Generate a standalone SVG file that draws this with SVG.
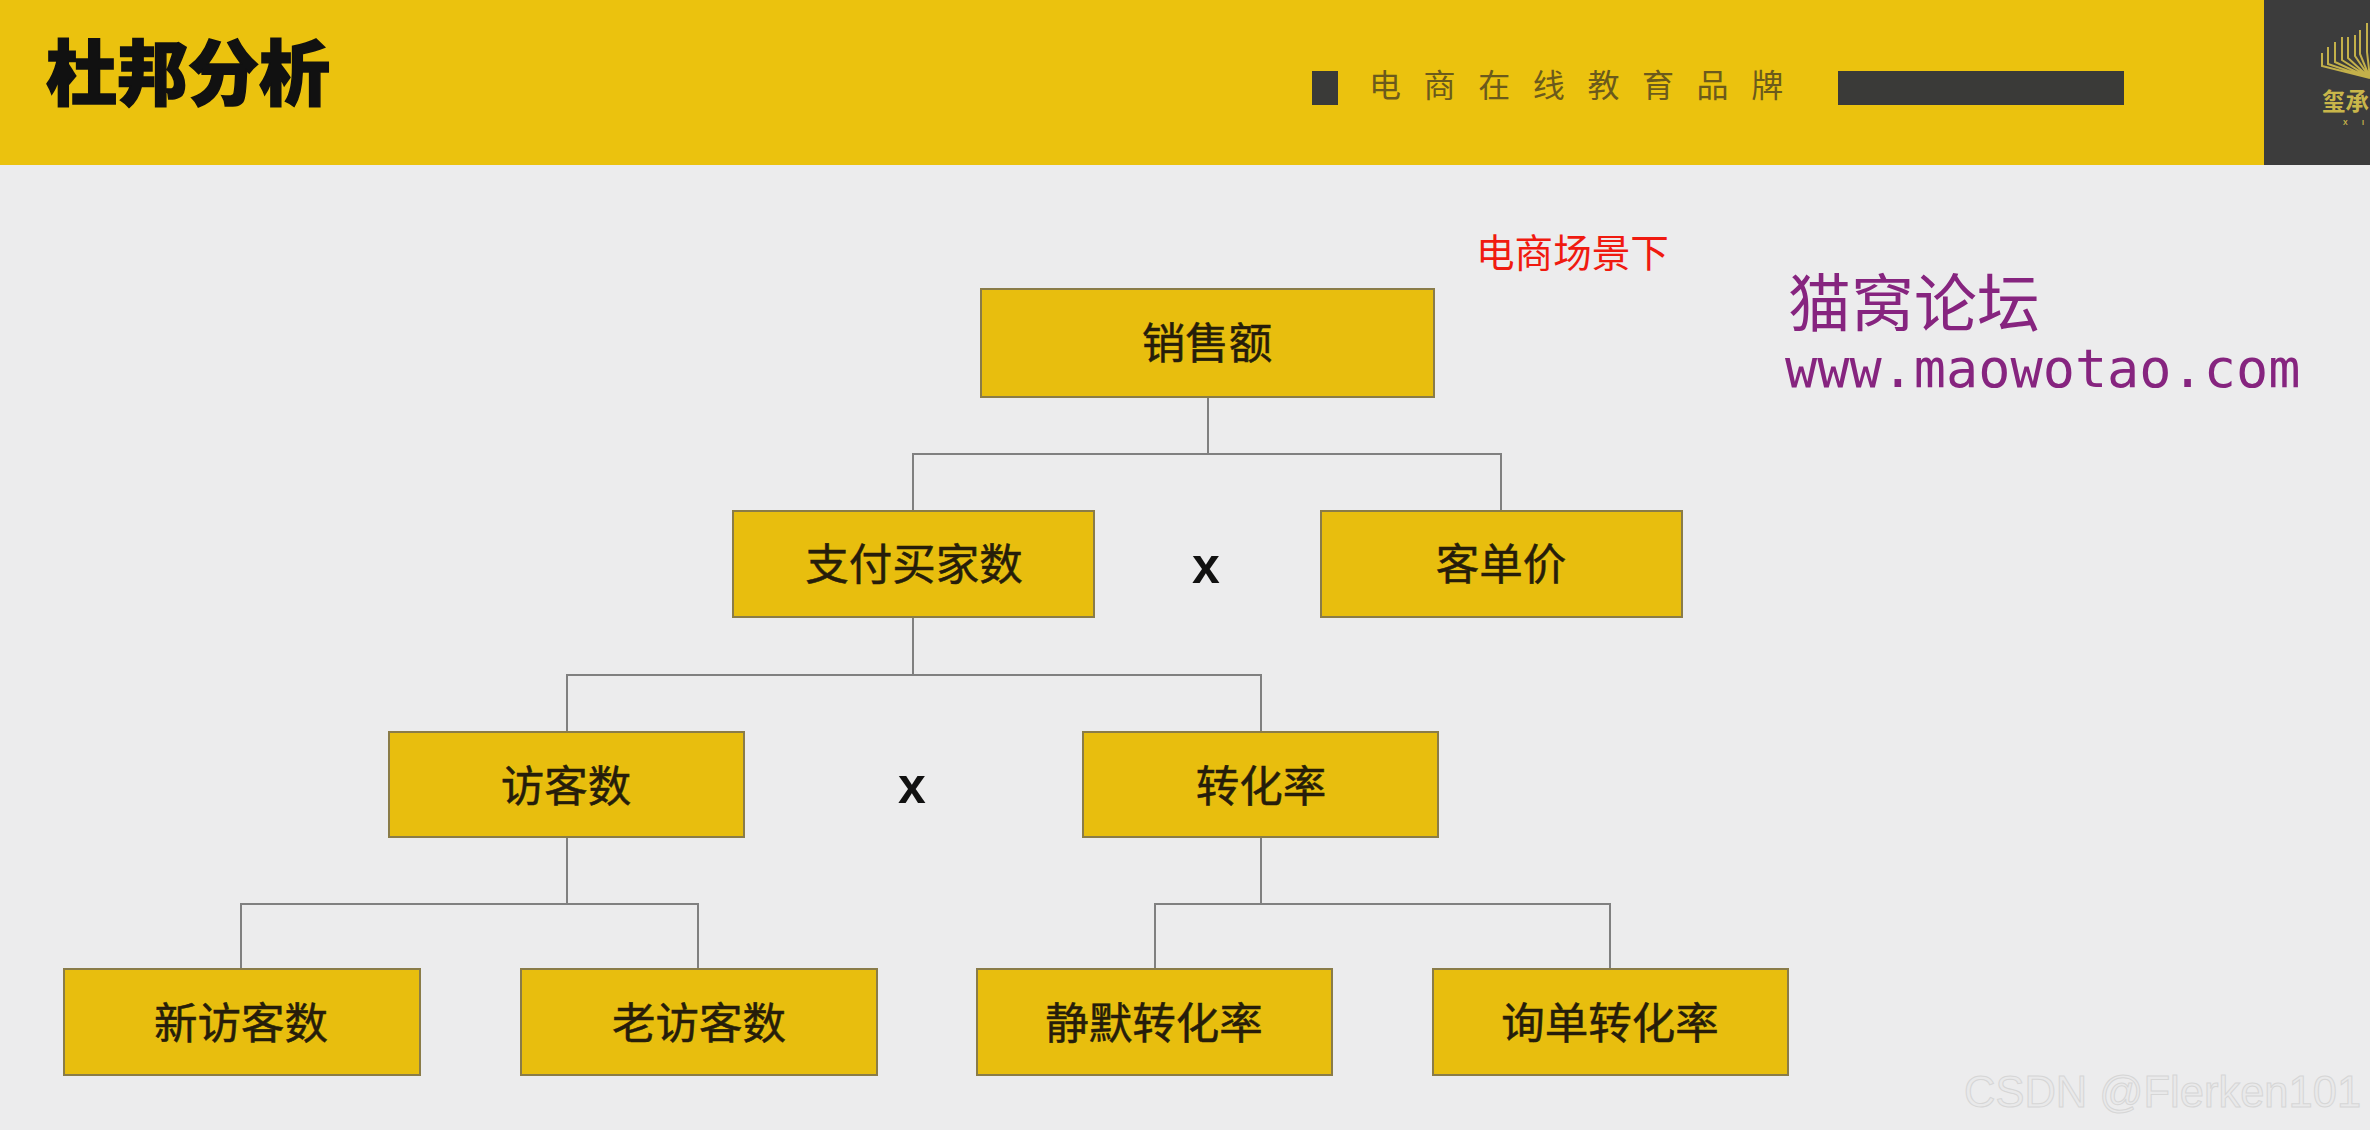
<svg xmlns="http://www.w3.org/2000/svg" width="2370" height="1130" viewBox="0 0 2370 1130">
<style>
.cjk{font-family:"Noto Sans CJK SC","Noto Sans",sans-serif}
.box{fill:#e8be0e;stroke:#8a7c48;stroke-width:2}
.lbl{font-size:43.5px;font-weight:400;stroke:#261d0a;stroke-width:.5;fill:#261d0a;text-anchor:middle;font-family:"Noto Sans CJK SC",sans-serif}
.con{fill:none;stroke:#808080;stroke-width:2}
.x{font-family:"Liberation Sans",sans-serif;font-weight:bold;font-size:50px;fill:#111;text-anchor:middle}
.fan{fill:none;stroke:#c3b04a;stroke-width:2}
</style>
<rect width="2370" height="1130" fill="#ececed"/>
<g id="header">
<rect width="2370" height="165" fill="#ebc20e"/>
<text x="46" y="99" class="cjk" font-size="71" font-weight="900" fill="#111" stroke="#111" stroke-width="1.5">杜邦分析</text>
<rect x="1312" y="71" width="26" height="34" fill="#3a3a38"/>
<text x="1369" y="97" class="cjk" font-size="32" fill="#6b5a1c" letter-spacing="22.6">电商在线教育品牌</text>
<rect x="1838" y="71" width="286" height="34" fill="#3a3a38"/>
<rect x="2264" y="0" width="106" height="165" fill="#3c3c3c"/>
<path class="fan" d="M2322 53V66L2370 78M2328 47V64L2370 78M2335 42V62L2370 78M2342 37V60L2370 78M2348 37V58L2370 78M2355 35V56L2370 78M2360 30V54L2370 78M2367 23V52L2370 78"/>
<text x="2322" y="110" class="cjk" font-size="23.5" font-weight="bold" fill="#c9b64a">玺承</text>
<text x="2343 2362" y="125" font-family="Liberation Sans,sans-serif" font-size="7" font-weight="bold" fill="#c9b64a">XI</text>
</g>
<text x="1476" y="267" class="cjk" font-size="38.6" fill="#f01a10">电商场景下</text>
<g id="watermark" fill="#86247f">
<text x="1788" y="326" class="cjk" font-size="63">猫窝论坛</text>
<text x="1785" y="387" font-family="DejaVu Sans Mono,monospace" font-size="53.5">www.maowotao.com</text>
</g>
<g id="connectors">
<path class="con" d="M1208 397V454M913 511V454H1501V511"/>
<path class="con" d="M913 617V675M567 731V675H1261V731"/>
<path class="con" d="M567 837V904M241 969V904H698V969"/>
<path class="con" d="M1261 837V904M1155 969V904H1610V969"/>
</g>
<g id="n1"><rect class="box" x="981" y="289" width="453" height="108"/><text class="lbl" x="1207" y="359">销售额</text></g>
<g id="n2"><rect class="box" x="733" y="511" width="361" height="106"/><text class="lbl" x="914" y="580">支付买家数</text></g>
<g id="n3"><rect class="box" x="1321" y="511" width="361" height="106"/><text class="lbl" x="1501" y="580">客单价</text></g>
<g id="n4"><rect class="box" x="389" y="732" width="355" height="105"/><text class="lbl" x="566" y="802">访客数</text></g>
<g id="n5"><rect class="box" x="1083" y="732" width="355" height="105"/><text class="lbl" x="1261" y="802">转化率</text></g>
<g id="n6"><rect class="box" x="64" y="969" width="356" height="106"/><text class="lbl" x="241" y="1039">新访客数</text></g>
<g id="n7"><rect class="box" x="521" y="969" width="356" height="106"/><text class="lbl" x="699" y="1039">老访客数</text></g>
<g id="n8"><rect class="box" x="977" y="969" width="355" height="106"/><text class="lbl" x="1154" y="1039">静默转化率</text></g>
<g id="n9"><rect class="box" x="1433" y="969" width="355" height="106"/><text class="lbl" x="1610" y="1039">询单转化率</text></g>
<text class="x" x="1206" y="583">x</text>
<text class="x" x="912" y="803">x</text>
<text x="1964" y="1107" font-family="Liberation Sans,sans-serif" font-size="43.5" fill="#e9e9ea" stroke="#d6d6d6" stroke-width="1">CSDN @Flerken101</text>
</svg>
